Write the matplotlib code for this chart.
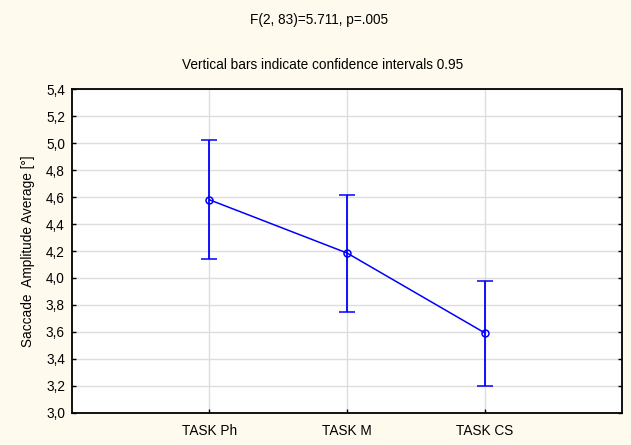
import matplotlib
matplotlib.use("Agg")
import matplotlib.pyplot as plt
from matplotlib.ticker import FuncFormatter, MultipleLocator

plt.rcParams['font.family'] = ['Liberation Sans', 'DejaVu Sans']
plt.rcParams['font.size'] = 9.8

# means and 0.95 confidence limits per task
tasks = ["TASK Ph", "TASK M", "TASK CS"]
means = [4.58, 4.185, 3.593]
ci_low = [4.138, 3.748, 3.197]
ci_high = [5.022, 4.617, 3.980]

bg = '#FFFAEE'
blue = '#0000FF'
fs = 9.8

fig = plt.figure(figsize=(6.31, 4.45), dpi=100, facecolor=bg)
ax = fig.add_axes([0.114, 0.0726, 0.872, 0.7267])
ax.set_facecolor('white')

xpos = list(range(1, len(tasks) + 1))
yerr = [[m - lo for m, lo in zip(means, ci_low)],
        [hi - m for m, hi in zip(means, ci_high)]]

ax.errorbar(xpos, means, yerr=yerr, color=blue, ecolor=blue, lw=1.1,
            elinewidth=1.3, capsize=6, capthick=1.3,
            marker='o', markersize=5, markerfacecolor='none',
            markeredgecolor=blue, markeredgewidth=1.1, zorder=3)

ax.set_xlim(0, 4)
ax.set_ylim(3.0, 5.4)
ax.set_xticks(xpos)
ax.set_xticklabels(tasks)
ax.yaxis.set_major_locator(MultipleLocator(0.2))
ax.yaxis.set_major_formatter(FuncFormatter(lambda v, p: f"{v:.1f}".replace('.', ',')))

ax.grid(True, color='#DDDDDD', lw=1.0, zorder=0)
ax.set_axisbelow(True)
for s in ax.spines.values():
    s.set_color('black')
    s.set_linewidth(1.3)

ax.tick_params(axis='both', direction='in', length=3, width=1, colors='black',
               labelsize=fs, right=True)
ax.tick_params(axis='x', pad=8)
ax.tick_params(axis='y', pad=5)

ax.set_ylabel("Saccade  Amplitude Average [°]", fontsize=fs, labelpad=8)

fig.text(0.506, 0.955, "F(2, 83)=5.711, p=.005", ha='center', va='center', fontsize=fs)
fig.text(0.511, 0.854, "Vertical bars indicate confidence intervals 0.95",
         ha='center', va='center', fontsize=fs)

fig.savefig("out.png", dpi=100, facecolor=bg)
